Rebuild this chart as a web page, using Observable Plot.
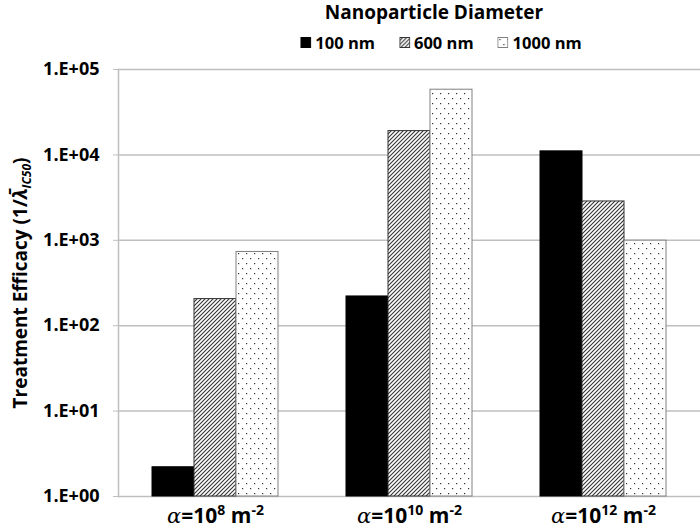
<!DOCTYPE html>
<html><head><meta charset="utf-8">
<script src="https://cdn.jsdelivr.net/npm/d3@7"></script>
<script src="https://cdn.jsdelivr.net/npm/@observablehq/plot@0.6"></script>
<style>
body{margin:0;background:#fff;font-family:"Open Sans",sans-serif;}
#wrap{width:700px;position:relative;}
#legend{position:relative;height:56px;font-weight:bold;color:#000;}
#ltitle{position:absolute;left:434px;top:-1px;transform:translateX(-50%);font-size:19px;white-space:nowrap;}
#litems{position:absolute;left:441px;top:31px;transform:translateX(-50%);font-size:16.5px;white-space:nowrap;display:flex;align-items:center;}
.item{display:flex;align-items:center;margin:0 12px;}
.item svg{margin-right:4px;}
</style></head>
<body>
<svg width="0" height="0" style="position:absolute">
  <defs>
    <pattern id="hatch" width="4" height="4" patternUnits="userSpaceOnUse">
      <rect width="4" height="4" fill="#fff"/>
      <path d="M-1,1 l2,-2 M0,4 l4,-4 M3,5 l2,-2" stroke="#333" stroke-width="1.1"/>
    </pattern>
    <pattern id="dots" width="8" height="10" patternUnits="userSpaceOnUse">
      <rect width="8" height="10" fill="#fff"/>
      <rect x="2" y="2" width="1.2" height="1.2" fill="#333"/>
      <rect x="6" y="7" width="1.2" height="1.2" fill="#333"/>
    </pattern>
  </defs>
</svg>
<div id="wrap">
  <div id="legend">
    <div id="ltitle">Nanoparticle Diameter</div>
    <div id="litems"></div>
  </div>
  <div id="chart"></div>
</div>
<script>
// ---- data ----
const categories = ["1e8", "1e10", "1e12"];
const exponents = [8, 10, 12];
const series = ["100 nm", "600 nm", "1000 nm"];
const values100 = [2.2, 220, 11000];
const values600 = [205, 19000, 2850];
const values1000 = [730, 58000, 990];
const yTicks = [1, 10, 100, 1000, 10000, 100000];
const yTickLabels = ["1.E+00", "1.E+01", "1.E+02", "1.E+03", "1.E+04", "1.E+05"];
const fills = ["#000", "url(#hatch)", "url(#dots)"];
const strokes = ["#000", "#333", "#808080"];

const seriesValues = [values100, values600, values1000];
const data = categories.flatMap((c, i) =>
  series.map((s, j) => ({cat: c, series: s, value: seriesValues[j][i], k: j})));

// ---- legend ----
const litems = document.getElementById("litems");
series.forEach((s, j) => {
  const d = document.createElement("div");
  d.className = "item";
  d.innerHTML = `<svg width="11" height="11"><rect x="0.5" y="0.5" width="10" height="10" fill="${fills[j]}" stroke="${strokes[j]}"/></svg><span>${s}</span>`;
  litems.appendChild(d);
});

// ---- chart ----
const chart = Plot.plot({
  width: 700, height: 476,
  marginTop: 13, marginBottom: 36, marginLeft: 118, marginRight: 0,
  style: {fontFamily: "'Open Sans', sans-serif", fontWeight: "bold", fontSize: "15px", color: "#000", background: "white", overflow: "visible"},
  fx: {domain: categories, padding: 0, label: null},
  x: {domain: series, paddingInner: 0, paddingOuter: 0.756, axis: null},
  y: {type: "log", domain: [1, 100000]},
  color: {domain: series, range: fills},
  marks: [
    Plot.gridY(yTicks, {stroke: "#bfbfbf", strokeOpacity: 1, strokeWidth: 1.5}),
    Plot.barY(data, {fx: "cat", x: "series", y1: 1, y2: "value", fill: "series",
      stroke: {value: d => strokes[d.k], scale: null}, strokeWidth: 1}),
    Plot.frame({anchor: "left", facetAnchor: "left", stroke: "#bfbfbf", strokeWidth: 1.5}),
    Plot.axisY(yTicks, {tickSize: 5, tickPadding: 14, stroke: "#bfbfbf",
      tickFormat: d => yTickLabels[yTicks.indexOf(d)], fontSize: 18, fontWeight: "bold",
      label: "Treatment Efficacy", labelAnchor: "center", labelOffset: 105}),
    Plot.axisFx({anchor: "bottom", tickSize: 0, tickPadding: 12, fontSize: 21, fontWeight: "bold",
      tickFormat: c => c, label: null})
  ]
});
document.getElementById("chart").appendChild(chart);

// rich text for axis labels
const ns = "http://www.w3.org/2000/svg";
function span(parent, text, attrs) {
  const t = document.createElementNS(ns, "tspan");
  t.textContent = text;
  for (const k in attrs) t.setAttribute(k, attrs[k]);
  parent.appendChild(t);
  return t;
}
chart.querySelectorAll('g[aria-label="fx-axis tick label"] text').forEach(t => {
  const c = t.textContent;
  const e = exponents[categories.indexOf(c)];
  t.textContent = "";
  span(t, "α", {"font-style": "italic", "font-family": "'DejaVu Serif', serif", "font-weight": "normal"});
  span(t, "=10");
  span(t, String(e), {"font-size": "14", dy: "-8"});
  span(t, " m", {dy: "8"});
  span(t, "-2", {"font-size": "14", dy: "-8"});
});
chart.querySelectorAll('g[aria-label="y-axis label"] text').forEach(t => {
  t.textContent = "";
  t.setAttribute("font-size", "19");
  span(t, "Treatment Efficacy (1/");
  span(t, "λ\u0304", {"font-style": "italic"});
  span(t, "IC50", {"font-size": "12", "font-style": "italic", dy: "4"});
  span(t, ")", {dy: "-4"});
});
</script>
</body></html>
